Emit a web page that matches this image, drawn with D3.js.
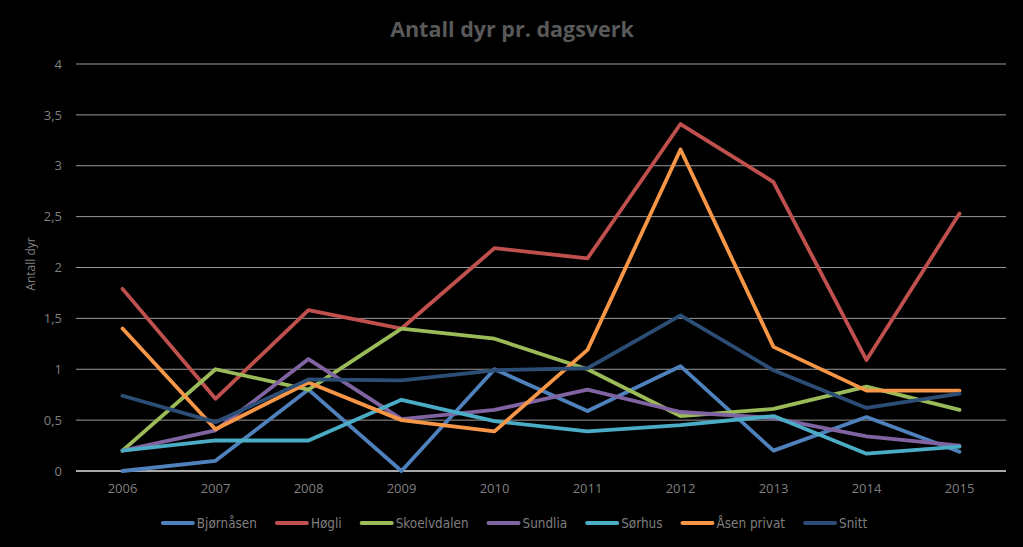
<!DOCTYPE html>
<html><head><meta charset="utf-8">
<script src="https://cdn.jsdelivr.net/npm/d3@7/dist/d3.min.js"></script>
<style>
html,body{margin:0;padding:0;background:#000;}
svg{display:block;}
text{font-family:"Open Sans",sans-serif;}
</style></head><body>
<svg id="chart" width="1023" height="547"></svg>
<script>
const years = ["2006","2007","2008","2009","2010","2011","2012","2013","2014","2015"];
const yTicks = [0,0.5,1,1.5,2,2.5,3,3.5,4];
const seriesNames = ["Bjørnåsen","Høgli","Skoelvdalen","Sundlia","Sørhus","Åsen privat","Snitt"];
const bjornasen   = [0, 0.1, 0.8, 0, 1.0, 0.59, 1.03, 0.2, 0.53, 0.19];
const hogli       = [1.79, 0.71, 1.58, 1.4, 2.19, 2.09, 3.41, 2.84, 1.09, 2.53];
const skoelvdalen = [0.2, 1.0, 0.8, 1.4, 1.3, 1.0, 0.54, 0.61, 0.83, 0.6];
const sundlia     = [0.2, 0.4, 1.1, 0.51, 0.6, 0.8, 0.58, 0.52, 0.34, 0.25];
const sorhus      = [0.2, 0.3, 0.3, 0.7, 0.49, 0.39, 0.45, 0.54, 0.17, 0.24];
const asenPrivat  = [1.4, 0.41, 0.87, 0.5, 0.39, 1.19, 3.16, 1.22, 0.79, 0.79];
const snitt       = [0.74, 0.48, 0.9, 0.89, 0.99, 1.01, 1.53, 0.99, 0.62, 0.76];
const seriesValues = [bjornasen, hogli, skoelvdalen, sundlia, sorhus, asenPrivat, snitt];
const colors = ["#4F81BD","#C0504D","#9BBB59","#8064A2","#4BACC6","#F79646","#2C4D75"];

(function(){
const svg = d3.select("#chart");
const pL = 76, pR = 1006, pT = 64, pB = 471;

const x = d3.scaleBand().domain(years).range([pL, pR]);
const y = d3.scaleLinear().domain([0,4]).range([pB, pT]);

// title
svg.append("text").attr("x", 512).attr("y", 37).attr("text-anchor","middle")
  .attr("fill","#595959")
  .style("font-size","21.5px").style("font-weight","bold").text("Antall dyr pr. dagsverk");

// gridlines
svg.append("g").selectAll("line").data(yTicks).join("line")
  .attr("x1", pL).attr("x2", pR)
  .attr("y1", d=>y(d)).attr("y2", d=>y(d))
  .attr("stroke", d=> d===0 ? "#e0e0e0" : "#9a9a9a").attr("stroke-width", d=> d===0?1.6:1);

// y axis labels
const yAxis = d3.axisLeft(y).tickValues(yTicks).tickSize(0).tickPadding(14)
  .tickFormat(d => String(d).replace(".", ","));
const gy = svg.append("g").attr("transform", `translate(${pL},0)`).call(yAxis);
gy.select(".domain").remove();
gy.selectAll("text").attr("fill","#7f7f7f").style("font-size","13px")
  .style("font-family","'Open Sans',sans-serif");

// x axis labels
const xAxis = d3.axisBottom(x).tickSize(0).tickPadding(13);
const gx = svg.append("g").attr("transform", `translate(0,${pB})`).call(xAxis);
gx.select(".domain").remove();
gx.selectAll("text").attr("fill","#7f7f7f").style("font-size","13px")
  .style("font-family","'Open Sans',sans-serif");

// y label
svg.append("text").attr("transform","translate(35,264) rotate(-90)")
  .attr("text-anchor","middle").attr("fill","#7f7f7f")
  .style("font-size","12px").text("Antall dyr");

// lines
const line = d3.line().x((d,i)=>x(years[i]) + x.bandwidth()/2).y(d=>y(d));
svg.append("g").selectAll("path").data(seriesValues).join("path")
  .attr("d", d=>line(d)).attr("fill","none")
  .attr("stroke",(d,i)=>colors[i]).attr("stroke-width",3.8)
  .attr("stroke-linejoin","round").attr("stroke-linecap","round");

// legend
const lg = svg.append("g");
let cx = 0;
const markerW = 34, textGap = 2, itemGap = 18, ly = 523;
seriesNames.forEach((name,i)=>{
  const g = lg.append("g");
  g.append("line").attr("x1",cx+2).attr("x2",cx+markerW-2).attr("y1",ly).attr("y2",ly)
    .attr("stroke",colors[i]).attr("stroke-width",4).attr("stroke-linecap","round");
  const t = g.append("text").attr("x",cx+markerW+textGap).attr("y",ly+5).attr("fill","#7f7f7f")
    .style("font-size","13.4px").style("font-family","'DejaVu Sans Condensed','Open Sans',sans-serif").text(name);
  const w = t.node().getComputedTextLength();
  cx = cx + markerW + textGap + w + itemGap;
});
const total = cx - itemGap;
lg.attr("transform", `translate(${514 - total/2},0)`);
})();
</script></body></html>
